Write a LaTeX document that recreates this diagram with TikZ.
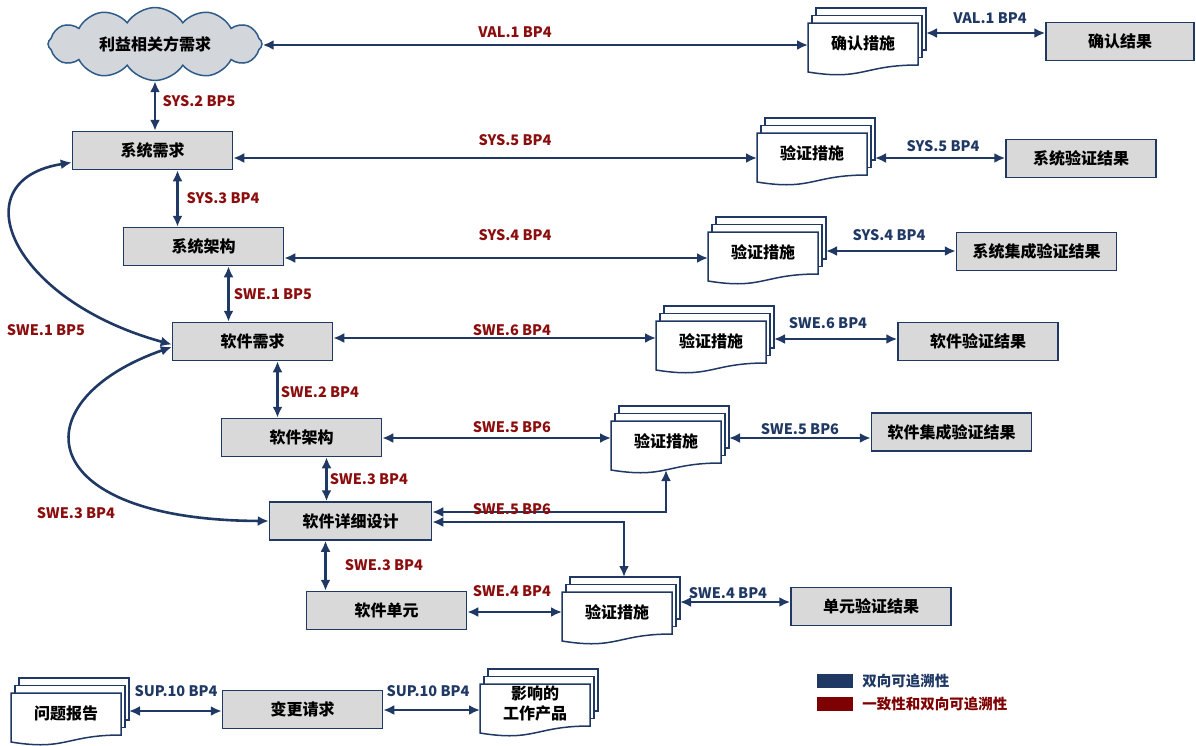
\documentclass[tikz,border=0pt]{standalone}
\usepackage{fontspec}
\setmainfont{Noto Sans CJK SC}
\usetikzlibrary{positioning,arrows.meta,shapes.symbols,calc}
\definecolor{navy}{HTML}{1F3864}
\definecolor{darkred}{HTML}{8B0D0D}
\definecolor{legred}{HTML}{7F0000}
\definecolor{boxgray}{HTML}{D9D9D9}
\definecolor{cloudgray}{HTML}{D3D6DB}
\definecolor{cloudblue}{HTML}{2E5C8A}
\tikzset{
  blk/.style     = {draw=navy, line width=1.5pt, fill=boxgray, minimum width=160pt,
                    minimum height=38pt, inner sep=2pt,
                    font=\bfseries\fontsize{16}{19}\selectfont},
  docline/.style = {draw=navy, line width=1.5pt, fill=white},
  doctext/.style = {font=\bfseries\fontsize{16}{20}\selectfont, align=center, inner sep=0pt},
  arr/.style     = {{Latex[length=11pt,width=10pt]}-{Latex[length=11pt,width=10pt]},
                    line width=2.6pt, draw=navy},
  lblr/.style    = {text=darkred, font=\bfseries\fontsize{14.5}{17}\selectfont, inner sep=1pt},
  lblb/.style    = {lblr, text=navy},
  legsw/.style   = {minimum width=36pt, minimum height=14pt, inner sep=0pt},
}
% stacked document shape: name, x, y (top left of front page), text, west y, east y
\newcommand{\multidoc}[6]{%
  \begin{scope}[shift={(#2,#3)}]
    \foreach \n in {2,1}
      \draw[docline] (4*\n,-7.5*\n) rectangle ++(110,42);
    \draw[docline] (0,0) -- (110,0) -- (110,42)
      .. controls (55,42) and (55,58) .. (0,49) -- cycle;
    \node[doctext] (#1) at (55,20) {#4};
    \coordinate (#1-w) at (0,#5);
    \coordinate (#1-e) at (118,#6);
    \coordinate (#1-s) at (55,49);
    \coordinate (#1-n) at (62,-15);
  \end{scope}}

\begin{document}
\begin{tikzpicture}[x=1pt, y=-1pt]
  \useasboundingbox (0,0) rectangle (1196,745);

  % left column
  \node[cloud, cloud puffs=12, cloud puff arc=115, aspect=3.3, draw=cloudblue,
        fill=cloudgray, line width=1.5pt, minimum width=214pt, minimum height=64pt,
        font=\bfseries\fontsize{16}{19}\selectfont] (stake) at (155,44) {利益相关方需求};
  \node[blk] (sysreq)  at (152.5,150.5) {系统需求};
  \node[blk] (sysarch) at (203.5,246.5) {系统架构};
  \node[blk] (swreq)   at (252.5,341.5) {软件需求};
  \node[blk] (swarch)  at (301.5,437.5) {软件架构};
  \node[blk, minimum width=162pt] (swdd) at (350.5,521) {软件详细设计};
  \node[blk] (swunit)  at (386.5,610.5) {软件单元};

  % measures
  \multidoc{valm}{808}{23}{确认措施}{22}{10}
  \multidoc{sysvm}{757}{133}{验证措施}{25}{25}
  \multidoc{sysim}{708}{232}{验证措施}{26}{19}
  \multidoc{swvm}{656}{321}{验证措施}{17}{18}
  \multidoc{swim}{611}{421}{验证措施}{17}{17}
  \multidoc{unitm}{562}{592}{验证措施}{20}{10}

  % results
  \node[blk, minimum width=148pt] (valres) at (1120,41.5) {确认结果};
  \node[blk, minimum width=150pt] (sysvres) at (1081,158.5) {系统验证结果};
  \node[blk] (sysires) at (1036.5,251.5) {系统集成验证结果};
  \node[blk] (swvres)  at (978,341.5)   {软件验证结果};
  \node[blk] (swires)  at (951.5,432)   {软件集成验证结果};
  \node[blk] (unitres) at (871,606.5)   {单元验证结果};

  % change management
  \multidoc{prep}{11}{693}{问题报告}{22}{18}
  \node[blk] (chreq) at (302.5,709.5) {变更请求};
  \multidoc{wprod}{480}{684}{影响的\\工作产品}{26}{20}

  % vertical links
  \draw[arr] (stake.south) -- (stake.south |- sysreq.north);
  \draw[arr] ([xshift=25]sysreq.south) -- ([xshift=25]sysreq.south |- sysarch.north);
  \draw[arr] ([xshift=25]sysarch.south) -- ([xshift=25]sysarch.south |- swreq.north);
  \draw[arr] ([xshift=25]swreq.south) -- ([xshift=25]swreq.south |- swarch.north);
  \draw[arr] ([xshift=25]swarch.south) -- ([xshift=25]swarch.south |- swdd.north);
  \draw[arr] ([xshift=-25]swdd.south) -- ([xshift=-25]swdd.south |- swunit.north);

  % to the measures
  \draw[arr] (valm-w -| stake.east) -- (valm-w);
  \draw[arr] (sysvm-w -| sysreq.east) -- (sysvm-w);
  \draw[arr] (sysim-w -| sysarch.east) -- (sysim-w);
  \draw[arr] (swvm-w -| swreq.east) -- (swvm-w);
  \draw[arr] (swim-w -| swarch.east) -- (swim-w);
  \draw[arr] ([yshift=9]swdd.east) -| (swim-s);
  \draw[arr] ([yshift=-1]swdd.east) -| (unitm-n);
  \draw[arr] (unitm-w -| swunit.east) -- (unitm-w);

  % to the results
  \draw[arr] (valm-e) -- (valm-e -| valres.west);
  \draw[arr] (sysvm-e) -- (sysvm-e -| sysvres.west);
  \draw[arr] (sysim-e) -- (sysim-e -| sysires.west);
  \draw[arr] (swvm-e) -- (swvm-e -| swvres.west);
  \draw[arr] (swim-e) -- (swim-e -| swires.west);
  \draw[arr] (unitm-e) -- (unitm-e -| unitres.west);

  % curved links
  \draw[arr] ([yshift=-12]sysreq.west) .. controls (-40,180) and (10,300) .. ([yshift=-3]swreq.west);
  \draw[arr] ([yshift=-5.5]swreq.west) .. controls (20,400) and (30,520) .. (swdd.west);

  % change request
  \draw[arr] (prep-e) -- (prep-e -| chreq.west);
  \draw[arr] (wprod-w -| chreq.east) -- (wprod-w);

  % labels
  \node[lblr] (l-val1)  at (515,32)  {VAL.1 BP4};
  \node[lblr] (l-sys2)  at (199,101) {SYS.2 BP5};
  \node[lblr] (l-sys5)  at (515,140) {SYS.5 BP4};
  \node[lblr] (l-sys3)  at (223,198) {SYS.3 BP4};
  \node[lblr] (l-sys4)  at (515,235) {SYS.4 BP4};
  \node[lblr] (l-swe1)  at (273,294) {SWE.1 BP5};
  \node[lblr] (l-swe1c) at (46,330)  {SWE.1 BP5};
  \node[lblr] (l-swe6)  at (512,330) {SWE.6 BP4};
  \node[lblr] (l-swe2)  at (320,392) {SWE.2 BP4};
  \node[lblr] (l-swe5)  at (512,427) {SWE.5 BP6};
  \node[lblr] (l-swe3)  at (369,479) {SWE.3 BP4};
  \node[lblr] (l-swe3c) at (76,513)  {SWE.3 BP4};
  \node[lblr] (l-swe5d) at (512,509) {SWE.5 BP6};
  \node[lblr] (l-swe3u) at (384,565) {SWE.3 BP4};
  \node[lblr] (l-swe4)  at (512,591) {SWE.4 BP4};

  \node[lblb] (r-val1) at (990,18)  {VAL.1 BP4};
  \node[lblb] (r-sys5) at (943,146) {SYS.5 BP4};
  \node[lblb] (r-sys4) at (889,235) {SYS.4 BP4};
  \node[lblb] (r-swe6) at (828,323) {SWE.6 BP4};
  \node[lblb] (r-swe5) at (800,429) {SWE.5 BP6};
  \node[lblb] (r-swe4) at (728,593) {SWE.4 BP4};
  \node[lblb] (r-sup1) at (176,691) {SUP.10 BP4};
  \node[lblb] (r-sup2) at (428,691) {SUP.10 BP4};

  % legend
  \node[legsw, fill=navy] (leg1) at (835,681) {};
  \node[lblb, anchor=west, right=8pt of leg1] (leg1t) {双向可追溯性};
  \node[legsw, fill=legred] (leg2) at (835,703.5) {};
  \node[lblr, text=legred, anchor=west, right=8pt of leg2] (leg2t) {一致性和双向可追溯性};
\end{tikzpicture}
\end{document}
